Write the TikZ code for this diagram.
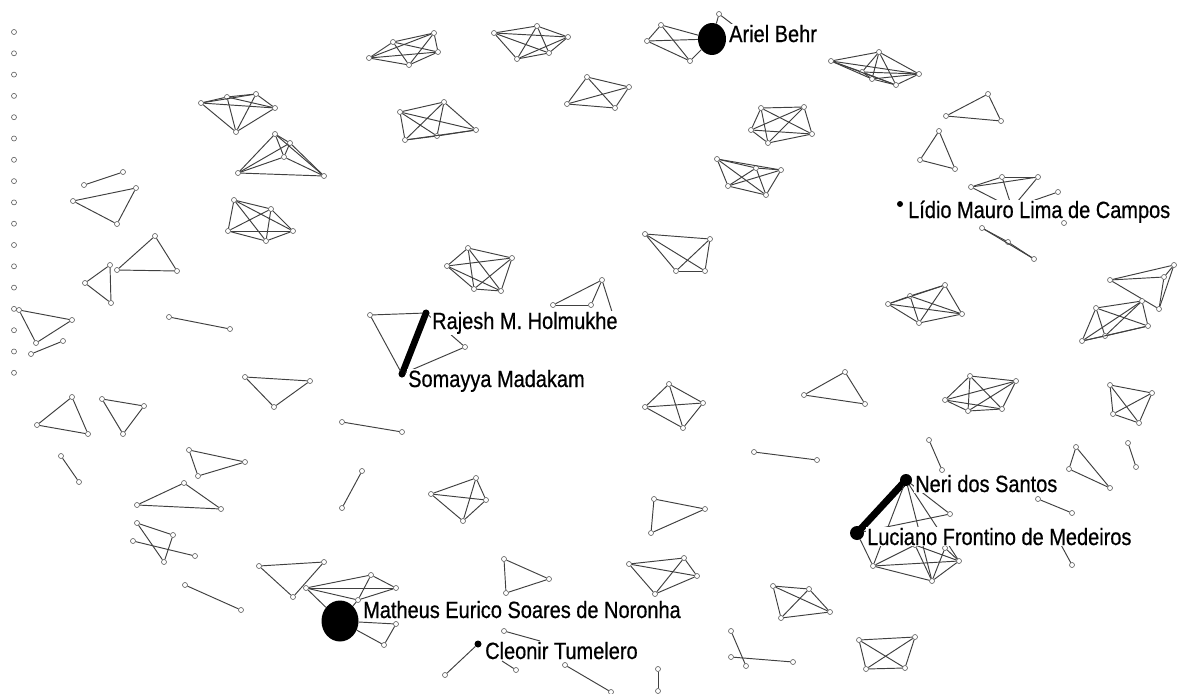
\documentclass[tikz,border=0pt]{standalone}
\usepackage{fontspec}
\setmainfont{Liberation Sans}[FakeStretch=0.85,FakeBold=0.6]
\usetikzlibrary{shapes.geometric}
\newcommand\kcomplete[2]{\foreach \i in {1,...,#2}{\foreach \j in {1,...,#2}{\ifnum\i<\j\relax\draw[edg] (#1\i) -- (#1\j);\fi}}}
\newcommand\vlist[2]{\foreach \px/\py [count=\k] in {#2}{\node[vtx] (#1\k) at (\px,\py) {};}}
\begin{document}
\begin{tikzpicture}[x=1pt,y=-1pt,
  vtx/.style={circle,draw=black!65,fill=white,line width=0.6pt,inner sep=0pt,minimum size=5pt},
  edg/.style={draw=black!75,line width=0.95pt},
  fatedge/.style={draw=black,line width=6.5pt,line cap=round},
  bdot/.style={circle,fill=black,inner sep=0pt},
  lbl/.style={fill=white,inner sep=1pt,anchor=base west,font=\fontsize{23.5}{26}\selectfont}]
\useasboundingbox (0,0) rectangle (1177,693);
\fill[white] (0,0) rectangle (1177,693);
% left column of isolated vertices
\foreach \k in {0,...,16} \node[vtx] (l\k) at (14,{32+21.3*\k}) {};
% dense clusters
\vlist{ca}{201/103,227/97,256/94,275/108,236/132}\kcomplete{ca}{5}
\vlist{cb}{275/134,290/143,284/157,238/173,324/176}\kcomplete{cb}{5}
\vlist{cc}{234/200,271/209,293/231,228/231,266/241}\kcomplete{cc}{5}
\vlist{cd}{369/58,393/42,434/33,438/52,409/65}\kcomplete{cd}{5}
\vlist{ce}{494/33,537/26,568/37,549/53,517/59}\kcomplete{ce}{5}
\vlist{cf}{400/112,444/102,476/130,437/136,405/140}\kcomplete{cf}{5}
\vlist{cg}{587/77,567/104,629/87,615/108}\kcomplete{cg}{4}
\vlist{ch}{831/61,879/52,919/74,896/85,862/72,872/79}\kcomplete{ch}{6}
\vlist{ci}{761/108,804/107,812/134,768/143,751/130}\kcomplete{ci}{5}
\vlist{cj}{717/159,781/170,766/195,728/186,756/168}\kcomplete{cj}{5}
\vlist{co}{468/248,447/266,512/258,501/291,474/289}\kcomplete{co}{5}
\vlist{cp}{645/234,710/239,705/271,676/271}\kcomplete{cp}{4}
\vlist{cq}{669/384,645/407,703/403,683/428}\kcomplete{cq}{4}
\vlist{cs}{888/304,910/296,945/285,962/314,919/323}\kcomplete{cs}{5}
\vlist{ct}{1110/280,1174/265,1164/277,1159/309}\kcomplete{ct}{4}
\vlist{cu}{1096/308,1142/301,1148/326,1105/336,1082/341}\kcomplete{cu}{5}
\vlist{cw}{970/376,1016/381,1002/409,968/411,945/400}\kcomplete{cw}{5}
\vlist{cv}{1110/385,1152/393,1139/423,1113/414}\kcomplete{cv}{4}
\vlist{cy}{859/640,915/637,905/668,866/669}\kcomplete{cy}{4}
\vlist{caa}{629/564,684/558,697/576,655/594}\kcomplete{caa}{4}
\vlist{cab}{773/586,809/589,830/612,781/618}\kcomplete{cab}{4}
\vlist{cac}{431/494,476/478,486/500,463/521}\kcomplete{cac}{4}
% triangles
\vlist{tA}{73/201,136/188,117/224}\kcomplete{tA}{3}
\vlist{tB}{155/236,117/270,177/271}\kcomplete{tB}{3}
\vlist{tC}{110/265,85/283,111/303}\kcomplete{tC}{3}
\vlist{tD}{19/310,72/320,36/343}\kcomplete{tD}{3}
\vlist{tE}{245/377,310/381,274/407}\kcomplete{tE}{3}
\vlist{tF}{72/397,37/425,88/434}\kcomplete{tF}{3}
\vlist{tG}{102/399,144/406,123/434}\kcomplete{tG}{3}
\vlist{tH}{189/450,245/462,198/476}\kcomplete{tH}{3}
\vlist{tI}{184/483,137/505,221/509}\kcomplete{tI}{3}
\vlist{tJ}{137/523,173/535,164/562}\kcomplete{tJ}{3}
\vlist{tK}{988/94,946/116,1001/121}\kcomplete{tK}{3}
\vlist{tL}{939/131,920/160,955/169}\kcomplete{tL}{3}
\vlist{tR}{845/372,804/395,865/404}\kcomplete{tR}{3}
\vlist{tW}{1076/447,1069/469,1110/488}\kcomplete{tW}{3}
\vlist{tZ}{654/499,705/509,651/533}\kcomplete{tZ}{3}
\vlist{tP}{504/559,549/579,506/593}\kcomplete{tP}{3}
\vlist{tM}{259/566,324/562,293/597}\kcomplete{tM}{3}
\vlist{tN}{982/228,1008/242,1034/259}\kcomplete{tN}{3}
% pairs
\vlist{lna}{84/185,123/172}\kcomplete{lna}{2}
\vlist{lnb}{31/354,63/341}\kcomplete{lnb}{2}
\vlist{lnc}{169/317,230/329}\kcomplete{lnc}{2}
\vlist{lnd}{61/456,79/482}\kcomplete{lnd}{2}
\vlist{lne}{342/422,402/432}\kcomplete{lne}{2}
\vlist{lnf}{754/452,817/460}\kcomplete{lnf}{2}
\vlist{lng}{929/440,942/470}\kcomplete{lng}{2}
\vlist{lnh}{1128/443,1136/467}\kcomplete{lnh}{2}
\vlist{lni}{1038/499,1072/513}\kcomplete{lni}{2}
\vlist{lnj}{133/541,195/556}\kcomplete{lnj}{2}
\vlist{lnk}{185/585,241/610}\kcomplete{lnk}{2}
\vlist{lnl}{362/471,342/508}\kcomplete{lnl}{2}
\vlist{lnm}{731/631,746/666}\kcomplete{lnm}{2}
\vlist{lnn}{731/657,793/662}\kcomplete{lnn}{2}
\vlist{lno}{658/669,658/691}\kcomplete{lno}{2}
\vlist{lnp}{565/665,611/692}\kcomplete{lnp}{2}
\vlist{lnq}{1060/543,1072/565}\kcomplete{lnq}{2}
% Ariel Behr
\node[ellipse,fill=black,inner sep=0pt,minimum width=28pt,minimum height=32pt] (ar) at (712,39) {};
\vlist{ah}{661/25,647/41,690/61,719/14}
\coordinate (ahx) at (736,27);
\foreach \a/\b in {ah1/ah2,ah1/ar,ah2/ar,ah2/ah3,ah1/ah3,ah3/ar,ah4/ar,ah4/ahx} \draw[edg] (\a) -- (\b);
% Lidio cluster
\node[bdot,minimum size=6pt] (ld) at (900,204) {};
\vlist{cm}{971/187,1002/177,1038/177,1058/192,1012/208}
\foreach \a/\b in {cm1/cm2,cm1/cm3,cm2/cm3,cm1/cm5,cm2/cm5,cm3/cm5,cm4/cm5} \draw[edg] (\a) -- (\b);
% Rajesh / Somayya
\node[bdot,minimum size=7pt] (rj) at (426,313) {};
\node[bdot,minimum size=7pt] (so) at (402,374) {};
\vlist{rp}{370/315,465/347}
\draw[fatedge] (rj.center) -- (so.center);
\foreach \a/\b in {rp1/rj,rp1/so,rj/rp2,rp2/so} \draw[edg] (\a) -- (\b);
\vlist{cx}{553/305,591/305,602/280,614/318}
\foreach \a/\b in {cx1/cx2,cx1/cx3,cx2/cx3,cx3/cx4} \draw[edg] (\a) -- (\b);
% Neri / Luciano
\node[bdot,minimum size=12pt] (ne) at (906,480) {};
\node[bdot,minimum size=14pt] (lu) at (857,533) {};
\draw[fatedge,line width=7pt] (ne.center) -- (lu.center);
\vlist{nx}{950/514,873/566,932/581,959/561,915/545,945/548}
\foreach \a/\b in {ne/nx1,ne/nx2,ne/nx3,ne/nx4,lu/nx1,lu/nx2,nx2/nx3,nx2/nx4,nx3/nx4,nx5/nx3,nx5/nx4,nx5/nx2,nx6/nx4,nx6/nx3} \draw[edg] (\a) -- (\b);
% Matheus
\node[ellipse,fill=black,inner sep=0pt,minimum width=37pt,minimum height=41pt] (mt) at (340,621) {};
\vlist{mn}{306/588,371/575,396/588,358/600,396/624,384/645}
\foreach \a/\b in {mn1/mn2,mn1/mn3,mn1/mn4,mn2/mn3,mn2/mn4,mn3/mn4,mn1/mt,mn4/mt,mt/mn5,mt/mn6,mn5/mn6} \draw[edg] (\a) -- (\b);
% Cleonir
\node[bdot,minimum size=7pt] (cl) at (478,644) {};
\vlist{cn}{445/675,504/631,516/670}
\coordinate (cnx) at (540,641);
\coordinate (cny) at (502,661);
\foreach \a/\b in {cl/cn1,cn2/cnx,cn3/cny} \draw[edg] (\a) -- (\b);
% labels
\node[lbl] (lab1) at (728,42) {Ariel Behr};
\node[lbl] (lab2) at (907,218) {Lídio Mauro Lima de Campos};
\node[lbl] (lab3) at (431,329) {Rajesh M. Holmukhe};
\node[lbl] (lab4) at (407,387) {Somayya Madakam};
\node[lbl] (lab5) at (914,492) {Neri dos Santos};
\node[lbl] (lab6) at (866,545) {Luciano Frontino de Medeiros};
\node[lbl] (lab7) at (362,618) {Matheus Eurico Soares de Noronha};
\node[lbl] (lab8) at (484,659) {Cleonir Tumelero};
\node[vtx] (cm6) at (1064,223) {};
\end{tikzpicture}
\end{document}
